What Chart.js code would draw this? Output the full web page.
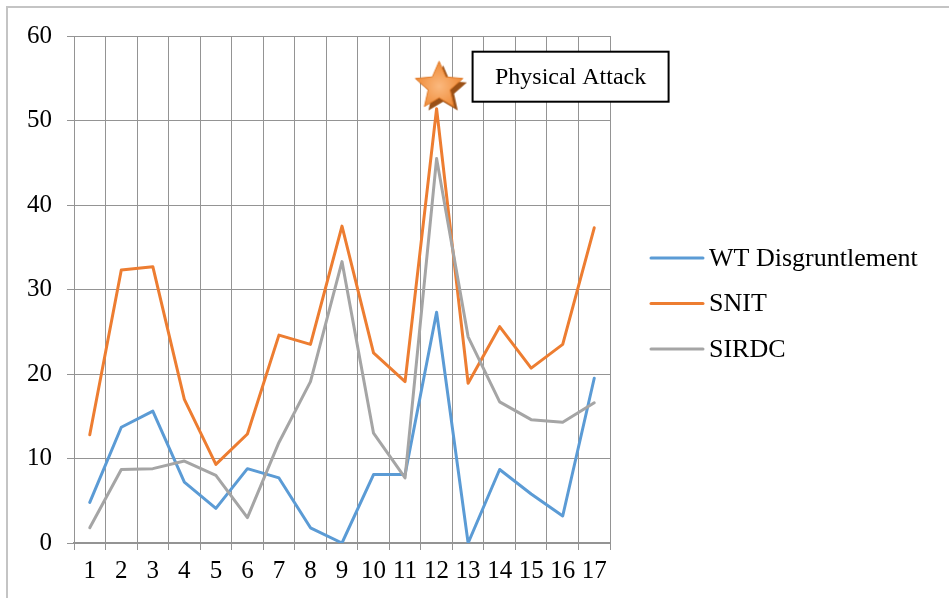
<!DOCTYPE html>
<html>
<head>
<meta charset="utf-8">
<script src="https://cdn.jsdelivr.net/npm/chart.js@4.4.1/dist/chart.umd.min.js"></script>
<style>
  html, body { margin: 0; padding: 0; background: #fff; }
  #wrap { position: relative; width: 949px; height: 598px; overflow: hidden; }
  #frame { position: absolute; left: 6px; top: 6px; width: 960px; height: 600px;
           border-top: 2px solid #c4c4c4; border-left: 2px solid #c4c4c4; }
  #chart { position: absolute; left: 0; top: 0; }
</style>
</head>
<body>
<div id="wrap">
  <div id="frame"></div>
  <canvas id="chart" width="949" height="598"></canvas>
</div>
<script>
// data
const categories = ['1', '2', '3', '4', '5', '6', '7', '8', '9', '10', '11', '12', '13', '14', '15', '16', '17'];
const wtDisgruntlement = [4.8, 13.7, 15.6, 7.2, 4.1, 8.8, 7.7, 1.8, 0, 8.1, 8.1, 27.3, 0, 8.7, 5.8, 3.2, 19.5];
const snit = [12.8, 32.3, 32.7, 17.0, 9.3, 12.9, 24.6, 23.5, 37.5, 22.5, 19.1, 51.4, 18.9, 25.6, 20.7, 23.5, 37.3];
const sirdc = [1.8, 8.7, 8.8, 9.7, 8.0, 3.0, 11.9, 19.1, 33.3, 13.0, 7.7, 45.5, 24.4, 16.7, 14.6, 14.3, 16.6];
const seriesNames = ['WT Disgruntlement', 'SNIT', 'SIRDC'];
const yMin = 0, yMax = 60, yStep = 10;

// the marked event
const attackCategory = '12';
const attackLevel = 54;
const attackLabel = 'Physical Attack';

const FONT = '"Liberation Serif", "Times New Roman", serif';
const GRID = '#949494';

// filled orange star with a brown drop shadow, used as the point image
function makeStar() {
  const c = document.createElement('canvas');
  c.width = 66; c.height = 66;
  const g = c.getContext('2d');
  const star = (cx, cy, R, r) => {
    g.beginPath();
    for (let i = 0; i < 10; i++) {
      const rad = i % 2 ? r : R;
      const a = -Math.PI / 2 + i * Math.PI / 5;
      g.lineTo(cx + rad * Math.cos(a), cy + rad * Math.sin(a));
    }
    g.closePath();
  };
  star(39.5, 36.5, 25, 11.5);
  g.fillStyle = '#9a5016';
  g.fill();
  star(35.5, 32.5, 25, 11.5);
  const grad = g.createRadialGradient(35.5, 32.5, 0, 35.5, 32.5, 25);
  grad.addColorStop(0, '#fbb97f');
  grad.addColorStop(1, '#ef8a36');
  g.fillStyle = grad;
  g.fill();
  g.strokeStyle = '#e07a28';
  g.lineWidth = 1;
  g.stroke();
  return c;
}

// text box beside the star
const calloutPlugin = {
  id: 'callout',
  afterDatasetsDraw(chart) {
    const meta = chart.getDatasetMeta(3);
    const pt = meta.data[categories.indexOf(attackCategory)];
    if (!pt) return;
    const ctx = chart.ctx;
    const x = pt.x + 36, y = pt.y - 35, w = 196, h = 50;
    ctx.save();
    ctx.fillStyle = '#fff';
    ctx.fillRect(x, y, w, h);
    ctx.strokeStyle = '#000';
    ctx.lineWidth = 2;
    ctx.strokeRect(x, y, w, h);
    ctx.fillStyle = '#000';
    ctx.font = '24px ' + FONT;
    ctx.textAlign = 'center';
    ctx.textBaseline = 'middle';
    ctx.fillText(attackLabel, x + w / 2, y + h / 2 + 1);
    ctx.restore();
  }
};

// legend on the right, excel style
const sideLegend = {
  id: 'sideLegend',
  afterDraw(chart) {
    const ctx = chart.ctx;
    const x0 = chart.chartArea.right + 41;
    ctx.save();
    ctx.font = '26px ' + FONT;
    ctx.textBaseline = 'middle';
    chart.data.datasets.slice(0, 3).forEach((ds, i) => {
      const y = 258 + i * 45.5;
      ctx.strokeStyle = ds.borderColor;
      ctx.lineWidth = 3;
      ctx.lineCap = 'round';
      ctx.beginPath();
      ctx.moveTo(x0, y);
      ctx.lineTo(x0 + 52, y);
      ctx.stroke();
      ctx.fillStyle = '#000';
      ctx.fillText(ds.label, x0 + 58, y + 1);
    });
    ctx.restore();
  }
};

const lineStyle = {
  borderWidth: 3,
  pointRadius: 0,
  pointHoverRadius: 0,
  tension: 0,
  fill: false,
  borderJoinStyle: 'round',
  borderCapStyle: 'round'
};

const ctx = document.getElementById('chart').getContext('2d');
new Chart(ctx, {
  type: 'line',
  data: {
    labels: categories,
    datasets: [
      { label: seriesNames[0], data: wtDisgruntlement, borderColor: '#5b9bd5', backgroundColor: '#5b9bd5', order: 3, ...lineStyle },
      { label: seriesNames[1], data: snit, borderColor: '#ed7d31', backgroundColor: '#ed7d31', order: 2, ...lineStyle },
      { label: seriesNames[2], data: sirdc, borderColor: '#a5a5a5', backgroundColor: '#a5a5a5', order: 1, ...lineStyle },
      {
        label: attackLabel,
        data: categories.map(c => (c === attackCategory ? attackLevel : null)),
        showLine: false,
        pointStyle: makeStar(),
        pointRadius: 30,
        order: 0
      }
    ]
  },
  options: {
    responsive: false,
    animation: false,
    events: [],
    layout: { padding: { left: 8, top: 36, right: 339, bottom: 0 } },
    plugins: {
      legend: { display: false },
      tooltip: { enabled: false }
    },
    scales: {
      x: {
        offset: true,
        grid: { offset: true, color: GRID, lineWidth: 1, tickLength: 7, drawTicks: true },
        border: { color: GRID, width: 2 },
        ticks: { color: '#000', font: { family: FONT, size: 25 }, padding: 6, maxRotation: 0, autoSkip: false },
        afterFit(s) { s.height = 55; }
      },
      y: {
        min: yMin,
        max: yMax,
        grid: { color: GRID, lineWidth: 1, tickLength: 7 },
        border: { display: false },
        ticks: { stepSize: yStep, color: '#000', font: { family: FONT, size: 25 }, padding: 15 },
        afterFit(s) { s.width = 66; }
      }
    }
  },
  plugins: [calloutPlugin, sideLegend]
});
</script>
</body>
</html>
